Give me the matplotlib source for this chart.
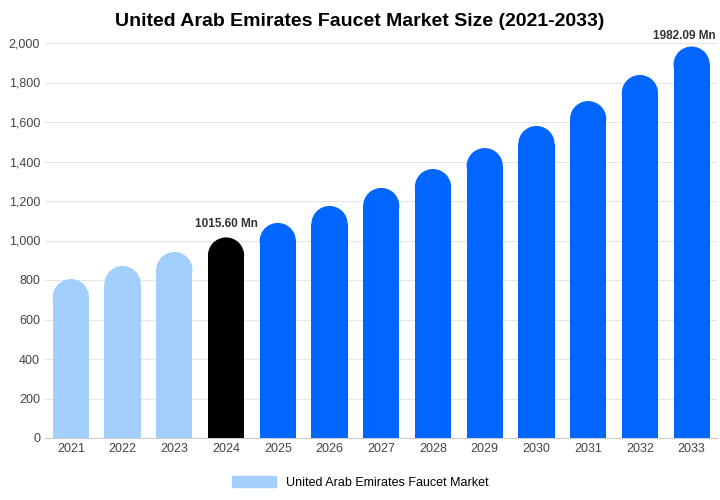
import matplotlib
matplotlib.use("Agg")
import matplotlib.pyplot as plt
from matplotlib.patches import Ellipse, Patch

plt.rcParams['font.family'] = ['Liberation Sans', 'DejaVu Sans']

years = ["2021","2022","2023","2024","2025","2026","2027","2028","2029","2030","2031","2032","2033"]
values = [805, 871, 942, 1015.60, 1089, 1175, 1266, 1362, 1468, 1580, 1706, 1838, 1982.09]
colors = ["#a3cfff"]*3 + ["#000000"] + ["#0066ff"]*9

fig = plt.figure(figsize=(7.2, 5.0), dpi=100)
ax = fig.add_axes([0.0625, 0.124, 0.934, 0.79])
ax.set_ylim(0, 2000)
ax.set_xlim(-0.5, len(years) - 0.5)
w = 0.7
ppu = 395 / 2000.0
ry = 18 / ppu
for i, (v, c) in enumerate(zip(values, colors)):
    ax.bar(i, v - ry, width=w, color=c, linewidth=0, zorder=3)
    ax.add_patch(Ellipse((i, v - ry), w, 2 * ry, facecolor=c, linewidth=0, zorder=3))

ax.set_xticks(range(len(years)))
ax.set_xticklabels(years, fontsize=9, color="#444")
ax.set_yticks(range(0, 2001, 200))
ax.set_yticklabels([f"{t:,}" for t in range(0, 2001, 200)], fontsize=9, color="#444")
ax.grid(axis="y", color="#e6e6e6", zorder=0)
for s in ["top", "right", "left"]:
    ax.spines[s].set_visible(False)
ax.spines["bottom"].set_color("#ccc")
ax.tick_params(length=0)
ax.text(3, 1015.6 + 40, "1015.60 Mn", ha="center", va="bottom", fontsize=8.5, fontweight="bold", color="#333")
ax.text(11.85, 1982.09 + 25, "1982.09 Mn", ha="center", va="bottom", fontsize=8.5, fontweight="bold", color="#333")
fig.suptitle("United Arab Emirates Faucet Market Size (2021-2033)", y=0.975, fontsize=14, fontweight="bold")
fig.legend(handles=[Patch(color="#a3cfff", label="United Arab Emirates Faucet Market")],
           loc="lower center", bbox_to_anchor=(0.5, 0.0), frameon=False, fontsize=9,
           handlelength=3.5, handleheight=0.9)
fig.savefig("out.png")
